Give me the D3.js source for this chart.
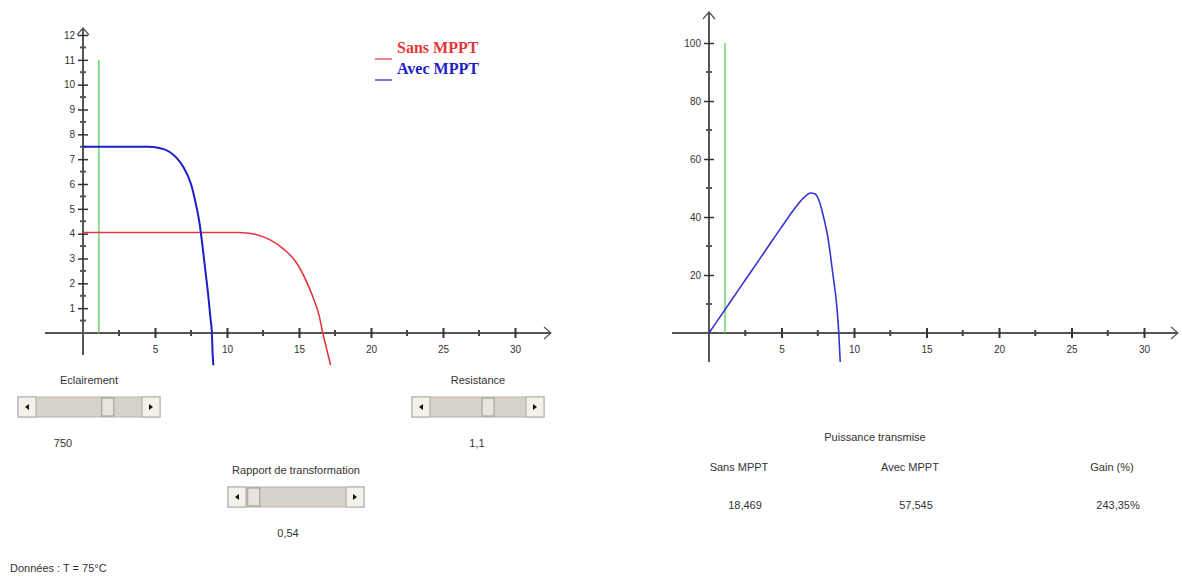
<!DOCTYPE html>
<html>
<head>
<meta charset="utf-8">
<script src="https://cdn.jsdelivr.net/npm/d3@7"></script>
<style>
  body { margin: 0; background: #fff; }
  svg { display: block; }
  .lbl { font-family: "Liberation Sans", Arial, sans-serif; font-size: 11px; fill: #333; }
  .tick text { font-family: "Liberation Sans", Arial, sans-serif; font-size: 10px; fill: #333; }
  .legend { font-family: "Liberation Serif", "Times New Roman", serif; font-size: 16px; font-weight: bold; }
</style>
</head>
<body>
<div id="chart"></div>
<script>
// I-V curves (x = tension, y = courant)
var sansMppt = [[0, 4.05], [10.8, 4.05], [11.5, 4.02], [12, 3.97], [13, 3.75], [14, 3.35], [14.8, 2.85],
                [15.5, 2.1], [16, 1.4], [16.4, 0.7], [16.65, 0], [16.9, -0.6], [17.2, -1.3]];
var avecMppt = [[0, 7.5], [4.5, 7.5], [5.3, 7.45], [6, 7.3], [6.5, 7.05], [7, 6.65], [7.5, 6.0],
                [7.8, 5.3], [8.1, 4.4], [8.3, 3.5], [8.5, 2.5], [8.7, 1.5], [8.85, 0.6], [8.95, 0],
                [9.0, -0.8], [9.05, -1.3]];
// P-V curve
var puissance = [[0, 0], [1, 7.3], [2, 14.6], [3, 21.9], [4, 29.2], [5, 36.5], [6, 43.5], [6.5, 46.5],
                 [7, 48.3], [7.3, 48], [7.6, 45.5], [7.9, 40], [8.2, 33], [8.55, 20], [8.8, 10],
                 [8.95, 0], [9.05, -10]];
var resistance = 1.1;
var xTicksMajor = [5, 10, 15, 20, 25, 30];
var xTicksMinor = [2.5, 7.5, 12.5, 17.5, 22.5, 27.5];
var yTicksLeft = [1, 2, 3, 4, 5, 6, 7, 8, 9, 10, 11, 12];
var yMinorLeft = d3.range(0.5, 12, 1);
var yTicksRight = [20, 40, 60, 80, 100];
var yMinorRight = [10, 30, 50, 70, 90];
var legendLabels = ["Sans MPPT", "Avec MPPT"];
var legendColors = ["#e5373a", "#1e1ec8"];
var sliders = [
  {label: "Eclairement", value: "750", x: 18, y: 397, w: 142, pos: 0.7, vx: 63},
  {label: "Resistance", value: "1,1", x: 412, y: 397, w: 132, pos: 0.62, vx: 477},
  {label: "Rapport de transformation", value: "0,54", x: 228, y: 487, w: 136, pos: 0.02, vx: 288}
];
var tableHeads = ["Sans MPPT", "Avec MPPT", "Gain (%)"];
var tableValues = ["18,469", "57,545", "243,35%"];

var svg = d3.select("#chart").append("svg")
    .attr("width", 1182)
    .attr("height", 576);

var axisColor = "#555";

// set the ranges
var xL = d3.scaleLinear().domain([0, 30]).range([83, 515]);
var yL = d3.scaleLinear().domain([0, 12]).range([333, 35]);
var xR = d3.scaleLinear().domain([0, 30]).range([709, 1144]);
var yR = d3.scaleLinear().domain([0, 100]).range([333, 43]);

function drawAxes(x, y, xStart, xEnd, yTop, yBottom, yTicks, yMinor) {
  var g = svg.append("g");
  // x axis line + arrow
  g.append("line").attr("x1", xStart).attr("x2", xEnd)
   .attr("y1", y(0)).attr("y2", y(0))
   .attr("stroke", axisColor).attr("stroke-width", 2);
  g.append("path")
   .attr("d", "M" + (xEnd - 7) + "," + (y(0) - 6) + "L" + xEnd + "," + y(0) + "L" + (xEnd - 7) + "," + (y(0) + 6))
   .attr("fill", "none").attr("stroke", axisColor).attr("stroke-width", 1.2);
  // y axis line + arrow
  g.append("line").attr("x1", x(0)).attr("x2", x(0))
   .attr("y1", yBottom).attr("y2", yTop)
   .attr("stroke", axisColor).attr("stroke-width", 2);
  g.append("path")
   .attr("d", "M" + (x(0) - 6) + "," + (yTop + 7) + "L" + x(0) + "," + yTop + "L" + (x(0) + 6) + "," + (yTop + 7))
   .attr("fill", "none").attr("stroke", axisColor).attr("stroke-width", 1.2);

  // x ticks (crossing the axis)
  var xa = g.append("g")
     .attr("transform", "translate(0," + y(0) + ")")
     .call(d3.axisBottom(x).tickValues(xTicksMajor).tickSize(5).tickPadding(8));
  xa.select(".domain").remove();
  xa.selectAll(".tick line").attr("y1", -5).attr("stroke", "#333").attr("stroke-width", 2);

  g.selectAll(".xminor").data(xTicksMinor).enter().append("line")
   .attr("x1", d => x(d)).attr("x2", d => x(d))
   .attr("y1", y(0) - 3).attr("y2", y(0) + 3)
   .attr("stroke", "#444").attr("stroke-width", 2);

  // y ticks
  var ya = g.append("g")
     .attr("transform", "translate(" + x(0) + ",0)")
     .call(d3.axisLeft(y).tickValues(yTicks).tickSize(5).tickPadding(3));
  ya.select(".domain").remove();
  ya.selectAll(".tick line").attr("x1", 5).attr("stroke", "#333").attr("stroke-width", 1.5);

  g.selectAll(".yminor").data(yMinor).enter().append("line")
   .attr("x1", x(0) - 3).attr("x2", x(0) + 3)
   .attr("y1", d => y(d)).attr("y2", d => y(d))
   .attr("stroke", "#555").attr("stroke-width", 2);
}

drawAxes(xL, yL, 45, 551, 28, 355, yTicksLeft, yMinorLeft);
drawAxes(xR, yR, 672, 1178, 12, 362, yTicksRight, yMinorRight);

// green resistance marker
svg.append("line")
   .attr("x1", xL(resistance)).attr("x2", xL(resistance))
   .attr("y1", yL(11)).attr("y2", yL(0))
   .attr("stroke", "#6ad66a").attr("stroke-width", 1.5);
svg.append("line")
   .attr("x1", xR(resistance)).attr("x2", xR(resistance))
   .attr("y1", yR(100)).attr("y2", yR(0))
   .attr("stroke", "#6ad66a").attr("stroke-width", 1.5);

// define the line creating functions
var lineL = d3.line().x(d => xL(d[0])).y(d => yL(d[1])).curve(d3.curveMonotoneX);
var lineR = d3.line().x(d => xR(d[0])).y(d => yR(d[1])).curve(d3.curveMonotoneX);

svg.append("path")
   .attr("d", lineL(sansMppt))
   .attr("fill", "none").attr("stroke", legendColors[0]).attr("stroke-width", 1.6);
svg.append("path")
   .attr("d", lineL(avecMppt))
   .attr("fill", "none").attr("stroke", legendColors[1]).attr("stroke-width", 2);
svg.append("path")
   .attr("d", lineR(puissance))
   .attr("fill", "none").attr("stroke", "#3434d0").attr("stroke-width", 1.6);

// legend
legendLabels.forEach((name, i) => {
  svg.append("line")
     .attr("x1", 375).attr("x2", 392)
     .attr("y1", 59 + i * 21).attr("y2", 59 + i * 21)
     .attr("stroke", legendColors[i]).attr("stroke-width", 1.2);
  svg.append("text")
     .attr("class", "legend")
     .attr("x", 397).attr("y", 53 + i * 21)
     .style("fill", legendColors[i])
     .text(name);
});

// scrollbars
sliders.forEach(s => {
  var cx = s.x + s.w / 2;
  svg.append("text").attr("class", "lbl")
     .attr("x", cx).attr("y", s.y - 13).attr("text-anchor", "middle")
     .text(s.label);
  svg.append("rect")
     .attr("x", s.x).attr("y", s.y).attr("width", s.w).attr("height", 20)
     .attr("fill", "#d6d2ca").attr("stroke", "#b8b4ac");
  [s.x, s.x + s.w - 18].forEach((bx, k) => {
    svg.append("rect")
       .attr("x", bx).attr("y", s.y).attr("width", 18).attr("height", 20)
       .attr("fill", "#f3f1ea").attr("stroke", "#aaa");
    var mx = bx + 9, my = s.y + 10;
    svg.append("path")
       .attr("d", k == 0
         ? "M" + (mx + 2) + "," + (my - 3) + "L" + (mx - 2) + "," + my + "L" + (mx + 2) + "," + (my + 3) + "Z"
         : "M" + (mx - 2) + "," + (my - 3) + "L" + (mx + 2) + "," + my + "L" + (mx - 2) + "," + (my + 3) + "Z")
       .attr("fill", "#111");
  });
  var tx = s.x + 18 + s.pos * (s.w - 36 - 12);
  svg.append("rect")
     .attr("x", tx).attr("y", s.y + 1).attr("width", 12).attr("height", 18)
     .attr("fill", "#e8e5dd").attr("stroke", "#999");
  svg.append("text").attr("class", "lbl")
     .attr("x", s.vx).attr("y", s.y + 50).attr("text-anchor", "middle")
     .text(s.value);
});

svg.append("text").attr("class", "lbl")
   .attr("x", 10).attr("y", 572)
   .text("Données : T = 75°C");

// power table
svg.append("text").attr("class", "lbl")
   .attr("x", 875).attr("y", 441).attr("text-anchor", "middle")
   .text("Puissance transmise");
var colX = [739, 910, 1112];
tableHeads.forEach((h, i) => {
  svg.append("text").attr("class", "lbl")
     .attr("x", colX[i]).attr("y", 471).attr("text-anchor", "middle").text(h);
  svg.append("text").attr("class", "lbl")
     .attr("x", colX[i] + 6).attr("y", 509).attr("text-anchor", "middle").text(tableValues[i]);
});
</script>
</body>
</html>
